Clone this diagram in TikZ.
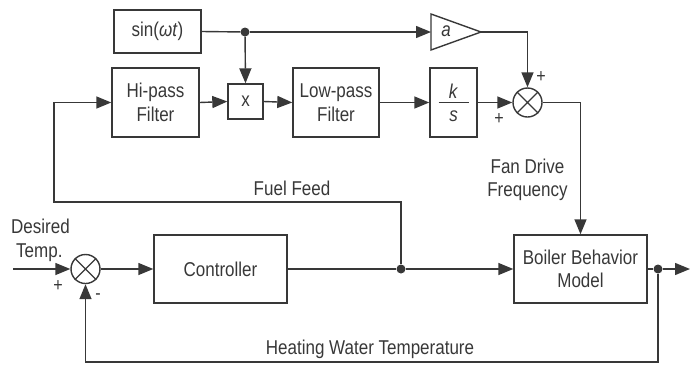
\documentclass[tikz,border=0pt]{standalone}
\usepackage{fontspec}
\setmainfont{Liberation Sans}[FakeStretch=0.85]
\usetikzlibrary{arrows.meta,calc}
\definecolor{ln}{HTML}{383838}
\begin{document}
\begin{tikzpicture}[x=1pt,y=-1pt,
  font=\fontsize{20}{23.5}\selectfont,
  every node/.style={text=ln},
  blk/.style={draw=ln,line width=1.4pt,align=center,inner sep=0pt},
  sumc/.style={draw=ln,line width=1.4pt,circle,minimum size=29pt,inner sep=0pt},
  dotn/.style={circle,fill=ln,minimum size=9pt,inner sep=0pt},
  wire/.style={draw=ln,line width=1.4pt},
  arr/.style={wire,-{Triangle[length=15pt,width=12pt]}},
  sgn/.style={font=\fontsize{19}{19}\selectfont,inner sep=0pt}]
\useasboundingbox (0,0) rectangle (697,365);
% blocks
\node[blk,minimum width=87pt,minimum height=43pt] (sin) at (157.5,31.5) {sin(\textit{ωt})};
\node[blk,minimum width=87pt,minimum height=69pt] (hip) at (155.5,102.5) {Hi-pass\\Filter};
\node[blk,minimum width=35pt,minimum height=35pt] (mult) at (245.5,101.5) {x};
\node[blk,minimum width=86pt,minimum height=69pt] (lp) at (336,102.5) {Low-pass\\Filter};
\node[blk,minimum width=47pt,minimum height=69pt] (ks) at (453.5,102.5) {};
\node (kk) at (453.5,91) {\textit{k}};
\node (ss) at (453.5,116) {\textit{s}};
\draw[wire] ($(ks.center)+(-15,0)$) -- ($(ks.center)+(15,0)$);
\node[sumc] (sum1) at (527.5,102.5) {};
\draw[wire] (sum1.north west) -- (sum1.south east) (sum1.north east) -- (sum1.south west);
\node[sumc] (sum2) at (85.5,269) {};
\draw[wire] (sum2.north west) -- (sum2.south east) (sum2.north east) -- (sum2.south west);
\node[blk,minimum width=133pt,minimum height=68pt] (ctrl) at (220.5,269) {Controller};
\node[blk,minimum width=133pt,minimum height=68pt] (boiler) at (580.5,269) {Boiler Behavior\\Model};
% amplifier triangle
\coordinate (ampin) at (431,32);
\coordinate (ampout) at (481,32);
\draw[wire,line join=miter] (431,14) -- (ampout) -- (431,50) -- cycle;
\node (ampl) at (446,31) {\textit{a}};
% junction dots
\node[dotn] (j1) at (245,32) {};
\node[dotn] (j2) at (401,269) {};
\node[dotn] (j3) at (658,269) {};
\coordinate (in) at (13,269);
\coordinate (out) at (690,269);
% connectors
\draw[wire] (sin.east) -- (j1);
\draw[arr] (j1) -- (ampin);
\draw[arr] (j1) -- (mult.north);
\draw[arr] (hip.east) -- (mult.west);
\draw[arr] (mult.east) -- (lp.west);
\draw[arr] (lp.east) -- (ks.west);
\draw[arr] (ks.east) -- (sum1.west);
\draw[arr] (ampout) -| (sum1.north);
\draw[arr] (sum1.east) -| (boiler.north);
\draw[arr] (in) -- (sum2.west);
\draw[arr] (sum2.east) -- (ctrl.west);
\draw[wire] (ctrl.east) -- (j2);
\draw[arr] (j2) -- (boiler.west);
\draw[arr] (j2) -- (401,202) -- (54,202) |- (hip.west);
\draw[wire] (boiler.east) -- (j3);
\draw[arr] (j3) -- (out);
\draw[arr] (j3) -- (658,362) -| (sum2.south);
% labels
\node[sgn] (p1) at (541,77) {+};
\node[sgn] (p2) at (499,119) {+};
\node[sgn] (p3) at (58,286) {+};
\node[sgn] (m1) at (98,297) {-};
\node (fuel) at (292,188) {Fuel Feed};
\node[align=center] (fan) at (527.5,180) {Fan Drive\\Frequency};
\node (hwt) at (370,349) {Heating Water Temperature};
\node[align=left,anchor=north west,inner sep=0pt] (des) at (11,219) {Desired\\\hspace*{5pt}Temp.};
\end{tikzpicture}
\end{document}
